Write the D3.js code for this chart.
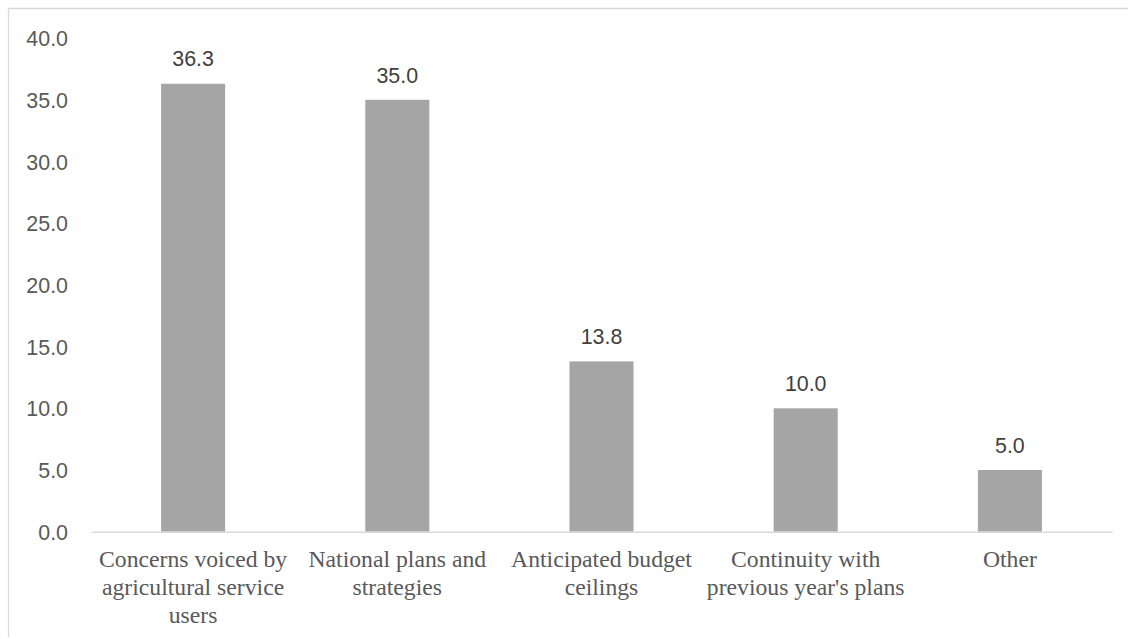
<!DOCTYPE html>
<html>
<head>
<meta charset="utf-8">
<script src="https://cdn.jsdelivr.net/npm/d3@7"></script>
<style>
  html, body { margin: 0; padding: 0; background: #ffffff; }
  svg { display: block; }
</style>
</head>
<body>
<svg id="chart" width="1128" height="639"></svg>
<script>
const categories = [
  "Concerns voiced by agricultural service users",
  "National plans and strategies",
  "Anticipated budget ceilings",
  "Continuity with previous year's plans",
  "Other"
];
const values = [36.3, 35.0, 13.8, 10.0, 5.0];
const yTicks = [0, 5, 10, 15, 20, 25, 30, 35, 40];

const W = 1128, H = 639;
const plot = { left: 91, right: 1112, top: 38.1, bottom: 531.7 };

const svg = d3.select("#chart");

// chart border (top and left visible)
svg.append("line").attr("x1", 8.5).attr("x2", W + 2).attr("y1", 8.5).attr("y2", 8.5)
  .attr("stroke", "#d9d9d9").attr("stroke-width", 1.3);
svg.append("line").attr("x1", 8.5).attr("x2", 8.5).attr("y1", 8.5).attr("y2", 637)
  .attr("stroke", "#d9d9d9").attr("stroke-width", 1.3);

const x = d3.scaleBand().domain(categories).range([plot.left, plot.right]).padding(0);
const y = d3.scaleLinear().domain([0, 40]).range([plot.bottom, plot.top]);
const barW = x.bandwidth() * 0.3135;

// Y axis labels
const yAxis = d3.axisLeft(y).tickValues(yTicks).tickFormat(d3.format(".1f")).tickSize(0).tickPadding(0);
const yg = svg.append("g").attr("transform", "translate(68,0)").call(yAxis);
yg.select(".domain").remove();
yg.selectAll("text")
  .attr("font-family", "'Liberation Sans', Arial, sans-serif")
  .attr("font-size", "21.4px")
  .attr("fill", "#595959")
  .attr("dy", "0.35em");

// bars
svg.append("g").selectAll("rect").data(values).join("rect")
  .attr("x", (d, i) => x(categories[i]) + x.bandwidth() / 2 - barW / 2)
  .attr("width", barW)
  .attr("y", d => y(d))
  .attr("height", d => y(0) - y(d))
  .attr("fill", "#a5a5a5");

// baseline
const xAxis = d3.axisBottom(x).tickSize(0).tickFormat("");
const xg = svg.append("g").attr("transform", `translate(0,${y(0)})`).call(xAxis);
xg.select(".domain").attr("stroke", "#d9d9d9").attr("stroke-width", 1.5);

// data labels
svg.append("g").selectAll("text").data(values).join("text")
  .attr("x", (d, i) => x(categories[i]) + x.bandwidth() / 2)
  .attr("y", d => y(d) - 17.3)
  .attr("text-anchor", "middle")
  .attr("font-family", "'Liberation Sans', Arial, sans-serif")
  .attr("font-size", "21.4px")
  .attr("fill", "#404040")
  .text(d => d3.format(".1f")(d));

// category labels with wrapping
const lblG = svg.append("g");
const maxW = x.step();
categories.forEach(cat => {
  const cx = x(cat) + x.bandwidth() / 2;
  const t = lblG.append("text")
    .attr("text-anchor", "middle")
    .attr("font-family", "'Liberation Serif', 'Times New Roman', serif")
    .attr("font-size", "23.7px")
    .attr("fill", "#595959");
  const words = cat.split(" ");
  let lines = [];
  let cur = [];
  const probe = t.append("tspan");
  words.forEach(w => {
    const test = cur.concat([w]).join(" ");
    probe.text(test);
    if (probe.node().getComputedTextLength() > maxW && cur.length) {
      lines.push(cur.join(" "));
      cur = [w];
    } else {
      cur.push(w);
    }
  });
  if (cur.length) lines.push(cur.join(" "));
  probe.remove();
  lines.forEach((ln, i) => {
    t.append("tspan").attr("x", cx).attr("y", y(0) + 35.6 + i * 27.7).text(ln);
  });
});
</script>
</body>
</html>
